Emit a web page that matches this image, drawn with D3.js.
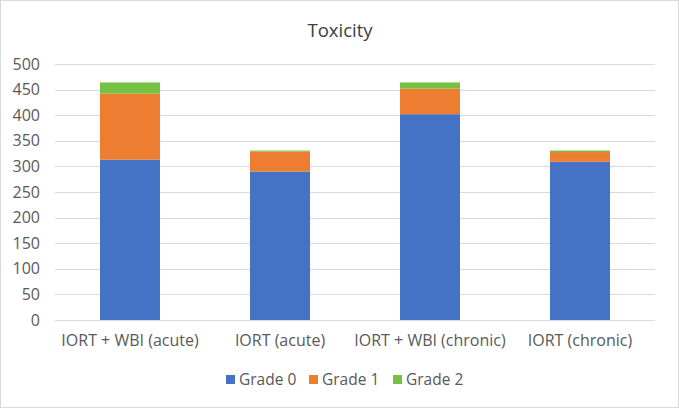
<!DOCTYPE html>
<html>
<head>
<meta charset="utf-8">
<script src="https://cdn.jsdelivr.net/npm/d3@7"></script>
<style>
  body { margin: 0; background: #fff; }
  svg { font-family: "Open Sans", "Liberation Sans", sans-serif; }
</style>
</head>
<body>
<div class="chart"></div>
<script>
	// data
	var categories = ["IORT + WBI (acute)", "IORT (acute)", "IORT + WBI (chronic)", "IORT (chronic)"];
	var seriesNames = ["Grade 0", "Grade 1", "Grade 2"];
	var grade0 = [313, 290, 402, 309];
	var grade1 = [129, 39, 50, 19];
	var grade2 = [22, 2, 12, 3];
	var yTicks = [0, 50, 100, 150, 200, 250, 300, 350, 400, 450, 500];
	var colors = ["#4472C4", "#ED7D31", "#78C043"];

	var width = 679, height = 408;
	var margin = { left: 55, right: 24, top: 64, bottom: 88 },
		plotwidth = width - margin.left - margin.right,
		plotheight = height - margin.top - margin.bottom;

	var svg = d3.select(".chart")
		.append("svg")
			.attr("width", width)
			.attr("height", height);

	// outer border
	svg.append("rect")
		.attr("x", 0.5).attr("y", 0.5)
		.attr("width", width - 1).attr("height", height - 1)
		.attr("fill", "#fff")
		.attr("stroke", "#d9d9d9");

	svg.append("text")
		.attr("x", width / 2 + 0.5)
		.attr("y", 37)
		.attr("text-anchor", "middle")
		.attr("font-size", "18.5px")
		.attr("fill", "#404040")
		.text("Toxicity");

	var g = svg.append("g")
		.attr("transform", "translate(" + margin.left + "," + margin.top + ")");

	var x = d3.scaleBand()
		.domain(categories)
		.range([0, plotwidth])
		.paddingInner(0.6)
		.paddingOuter(0.3);

	var y = d3.scaleLinear()
		.domain([0, 500])
		.range([plotheight, 0]);

	// gridlines
	g.selectAll(".grid")
		.data(yTicks)
		.enter().append("line")
			.attr("class", "grid")
			.attr("x1", 0).attr("x2", plotwidth)
			.attr("y1", function(d){ return Math.round(y(d)) + 0.5; })
			.attr("y2", function(d){ return Math.round(y(d)) + 0.5; })
			.attr("stroke", "#d9d9d9")
			.attr("stroke-width", 1);

	// stacked data
	var rows = categories.map(function(c, i){
		return { cat: c, "Grade 0": grade0[i], "Grade 1": grade1[i], "Grade 2": grade2[i] };
	});
	var stacked = d3.stack().keys(seriesNames)(rows);

	g.selectAll(".series")
		.data(stacked)
		.enter().append("g")
			.attr("class", "series")
			.attr("fill", function(d, i){ return colors[i]; })
		.selectAll("rect")
		.data(function(d){ return d; })
		.enter().append("rect")
			.attr("x", function(d){ return x(d.data.cat); })
			.attr("width", x.bandwidth())
			.attr("y", function(d){ return y(d[1]); })
			.attr("height", function(d){ return y(d[0]) - y(d[1]); });

	// y axis
	var yAxis = g.append("g")
		.call(d3.axisLeft(y).tickValues(yTicks).tickSize(0).tickPadding(15));
	yAxis.select(".domain").remove();
	yAxis.selectAll("text")
		.attr("font-size", "16px")
		.attr("fill", "#595959")
		.attr("font-family", "Open Sans, sans-serif");

	// x axis
	var xAxis = g.append("g")
		.attr("transform", "translate(0," + plotheight + ")")
		.call(d3.axisBottom(x).tickSize(0).tickPadding(15));
	xAxis.select(".domain").remove();
	xAxis.selectAll("text")
		.attr("font-size", "16px")
		.attr("fill", "#595959")
		.attr("font-family", "Open Sans, sans-serif");

	// legend
	var legendX = [226, 309, 393];
	var legend = svg.selectAll(".legend")
		.data(seriesNames)
		.enter().append("g")
			.attr("class", "legend")
			.attr("transform", function(d, i){ return "translate(" + legendX[i] + ",375)"; });
	legend.append("rect")
		.attr("width", 9).attr("height", 9)
		.attr("fill", function(d, i){ return colors[i]; });
	legend.append("text")
		.attr("x", 13)
		.attr("y", 10)
		.attr("font-size", "15.5px")
		.attr("fill", "#595959")
		.text(function(d){ return d; });
</script>
</body>
</html>
